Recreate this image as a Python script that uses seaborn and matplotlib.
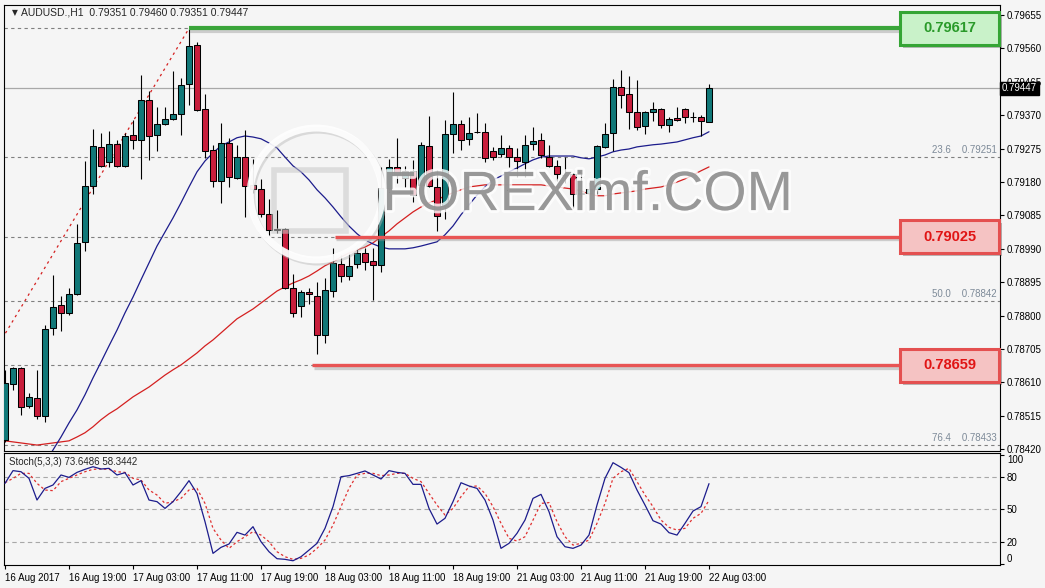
import numpy as np
import pandas as pd
import seaborn as sns
import matplotlib.pyplot as plt
import matplotlib.transforms as mtransforms
import matplotlib.patheffects as pe
from matplotlib.patches import Rectangle, Ellipse

# AUDUSD H1 candles, bar 0 = 16 Aug 11:00 ... bar 88 = 22 Aug 03:00
open_ = [0.78446, 0.78605, 0.78650, 0.78544, 0.78565, 0.78515, 0.78764, 0.78829, 0.78807, 0.78861,
         0.79009, 0.79169, 0.79279, 0.79238, 0.79287, 0.79226, 0.79313, 0.79300, 0.79412, 0.79313,
         0.79344, 0.79359, 0.79373, 0.79458, 0.79570, 0.79388, 0.79271, 0.79184, 0.79290, 0.79191,
         0.79252, 0.79171, 0.79159, 0.79088, 0.79046, 0.79046, 0.78878, 0.78828, 0.78868, 0.78857,
         0.78744, 0.78870, 0.78946, 0.78912, 0.78946, 0.78978, 0.78955, 0.78943, 0.79162, 0.79222,
         0.79191, 0.79212, 0.79172, 0.79282, 0.79165, 0.79112, 0.79317, 0.79344, 0.79302, 0.79323,
         0.79323, 0.79269, 0.79260, 0.79278, 0.79252, 0.79238, 0.79288, 0.79300, 0.79252, 0.79226,
         0.79200, 0.79202, 0.79148, 0.79148, 0.79159, 0.79279, 0.79319, 0.79449, 0.79430, 0.79380,
         0.79339, 0.79378, 0.79387, 0.79342, 0.79361, 0.79388, 0.79365, 0.79364, 0.79351]
high = [0.78645, 0.78655, 0.78655, 0.78579, 0.78645, 0.78773, 0.78916, 0.78856, 0.78878, 0.79061,
        0.79240, 0.79331, 0.79319, 0.79325, 0.79300, 0.79319, 0.79356, 0.79484, 0.79439, 0.79392,
        0.79392, 0.79496, 0.79475, 0.79617, 0.79577, 0.79430, 0.79285, 0.79347, 0.79304, 0.79285,
        0.79328, 0.79245, 0.79188, 0.79131, 0.79100, 0.79048, 0.78918, 0.78873, 0.78880, 0.78897,
        0.78906, 0.78993, 0.78973, 0.78977, 0.78993, 0.78991, 0.78991, 0.79222, 0.79246, 0.79304,
        0.79226, 0.79242, 0.79295, 0.79368, 0.79214, 0.79356, 0.79435, 0.79356, 0.79366, 0.79375,
        0.79347, 0.79280, 0.79314, 0.79285, 0.79276, 0.79314, 0.79337, 0.79319, 0.79285, 0.79243,
        0.79252, 0.79205, 0.79205, 0.79181, 0.79284, 0.79347, 0.79473, 0.79499, 0.79482, 0.79470,
        0.79383, 0.79408, 0.79391, 0.79366, 0.79392, 0.79390, 0.79380, 0.79371, 0.79460]
low = [0.78440, 0.78589, 0.78517, 0.78536, 0.78505, 0.78498, 0.78745, 0.78757, 0.78802, 0.78858,
       0.78985, 0.79146, 0.79224, 0.79224, 0.79224, 0.79224, 0.79274, 0.79188, 0.79243, 0.79269,
       0.79341, 0.79356, 0.79314, 0.79399, 0.79383, 0.79248, 0.79165, 0.79121, 0.79165, 0.79188,
       0.79081, 0.79150, 0.79081, 0.79027, 0.79036, 0.78876, 0.78795, 0.78795, 0.78833, 0.78690,
       0.78723, 0.78854, 0.78897, 0.78901, 0.78935, 0.78930, 0.78844, 0.78925, 0.79154, 0.79176,
       0.79167, 0.79124, 0.79167, 0.79167, 0.79042, 0.79074, 0.79263, 0.79271, 0.79285, 0.79320,
       0.79238, 0.79243, 0.79250, 0.79222, 0.79193, 0.79195, 0.79271, 0.79248, 0.79222, 0.79184,
       0.79176, 0.79105, 0.79138, 0.79100, 0.79147, 0.79276, 0.79269, 0.79390, 0.79330, 0.79328,
       0.79317, 0.79354, 0.79333, 0.79323, 0.79355, 0.79347, 0.79352, 0.79311, 0.79351]
close = [0.78608, 0.78650, 0.78539, 0.78568, 0.78515, 0.78761, 0.78824, 0.78807, 0.78861, 0.79006,
         0.79169, 0.79282, 0.79226, 0.79287, 0.79226, 0.79311, 0.79300, 0.79412, 0.79310, 0.79344,
         0.79359, 0.79373, 0.79455, 0.79567, 0.79385, 0.79268, 0.79184, 0.79290, 0.79193, 0.79252,
         0.79169, 0.79159, 0.79088, 0.79044, 0.79044, 0.78878, 0.78807, 0.78866, 0.78861, 0.78744,
         0.78873, 0.78949, 0.78912, 0.78942, 0.78977, 0.78953, 0.78943, 0.79162, 0.79222, 0.79202,
         0.79212, 0.79143, 0.79285, 0.79169, 0.79083, 0.79317, 0.79344, 0.79300, 0.79319, 0.79321,
         0.79248, 0.79250, 0.79278, 0.79252, 0.79240, 0.79285, 0.79298, 0.79257, 0.79226, 0.79203,
         0.79200, 0.79145, 0.79147, 0.79159, 0.79282, 0.79317, 0.79449, 0.79428, 0.79380, 0.79337,
         0.79380, 0.79387, 0.79342, 0.79358, 0.79356, 0.79364, 0.79364, 0.79354, 0.79447]

# moving averages (fast one starts at bar 5)
ma_fast_start = 5
ma_fast = [0.78381, 0.78418, 0.78455, 0.78495, 0.78532, 0.78575, 0.78623, 0.78668, 0.78714, 0.78759,
           0.78808, 0.78853, 0.78902, 0.78950, 0.78998, 0.79038, 0.79078, 0.79121, 0.79166, 0.79209,
           0.79240, 0.79263, 0.79283, 0.79294, 0.79306, 0.79311, 0.79308, 0.79303, 0.79291, 0.79277,
           0.79251, 0.79226, 0.79209, 0.79186, 0.79158, 0.79135, 0.79109, 0.79081, 0.79055, 0.79033,
           0.79015, 0.79004, 0.78995, 0.78990, 0.78990, 0.78990, 0.78993, 0.78998, 0.79004, 0.79010,
           0.79030, 0.79055, 0.79087, 0.79115, 0.79143, 0.79166, 0.79186, 0.79197, 0.79209, 0.79220,
           0.79232, 0.79243, 0.79251, 0.79254, 0.79254, 0.79254, 0.79254, 0.79249, 0.79246, 0.79251,
           0.79257, 0.79266, 0.79271, 0.79274, 0.79280, 0.79283, 0.79286, 0.79288, 0.79291, 0.79294,
           0.79300, 0.79306, 0.79311, 0.79323]
ma_slow = [0.78444, 0.78441, 0.78438, 0.78435, 0.78432, 0.78435, 0.78438, 0.78441, 0.78444, 0.78455,
           0.78467, 0.78484, 0.78504, 0.78521, 0.78535, 0.78552, 0.78569, 0.78583, 0.78597, 0.78614,
           0.78631, 0.78646, 0.78660, 0.78677, 0.78694, 0.78714, 0.78731, 0.78751, 0.78771, 0.78791,
           0.78805, 0.78819, 0.78836, 0.78853, 0.78870, 0.78882, 0.78893, 0.78902, 0.78913, 0.78927,
           0.78942, 0.78953, 0.78967, 0.78978, 0.78987, 0.78995, 0.79007, 0.79024, 0.79041, 0.79061,
           0.79078, 0.79095, 0.79109, 0.79121, 0.79129, 0.79141, 0.79149, 0.79158, 0.79166, 0.79169,
           0.79172, 0.79172, 0.79172, 0.79172, 0.79172, 0.79172, 0.79172, 0.79172, 0.79169, 0.79166,
           0.79163, 0.79160, 0.79155, 0.79146, 0.79141, 0.79141, 0.79146, 0.79149, 0.79152, 0.79155,
           0.79160, 0.79163, 0.79166, 0.79172, 0.79180, 0.79189, 0.79200, 0.79212, 0.79223]

# Stoch(5,3,3) main and signal
stoch_k = [73.9, 85.6, 84.6, 78.5, 58.6, 69.3, 72.4, 81.6, 79.4, 84.0,
           86.8, 89.2, 87.1, 87.7, 81.6, 83.7, 72.4, 76.4, 58.6, 57.1,
           50.9, 57.1, 66.3, 76.4, 64.7, 38.7, 9.6, 15.1, 18.2, 28.9,
           26.4, 34.1, 20.3, 11.1, 4.7, 4.1, 2.8, 6.5, 12.6, 18.8,
           32.6, 52.5, 80.0, 81.0, 83.1, 85.3, 81.6, 77.9, 85.6, 84.0,
           83.1, 73.0, 73.0, 50.9, 36.5, 41.8, 57.1, 74.5, 71.5, 69.3,
           58.6, 40.2, 14.2, 18.8, 28.0, 40.2, 60.1, 63.8, 47.9, 24.9,
           15.7, 14.2, 17.2, 26.4, 54.0, 78.5, 92.9, 88.6, 83.7, 67.8,
           54.0, 39.6, 36.5, 28.6, 26.4, 37.2, 48.5, 52.5, 73.65]
stoch_d = [74.5, 78.5, 83.1, 83.1, 73.9, 67.8, 67.2, 75.5, 78.5, 81.6,
           84.6, 86.8, 87.1, 86.8, 84.6, 84.0, 78.5, 77.0, 67.8, 63.2,
           55.5, 57.1, 60.1, 67.8, 69.3, 55.5, 32.6, 21.8, 14.2, 20.3,
           24.9, 29.5, 26.4, 20.3, 11.1, 6.5, 4.1, 5.0, 8.1, 14.2,
           21.8, 35.6, 52.5, 69.3, 81.6, 83.1, 83.1, 81.0, 81.6, 83.1,
           83.1, 78.5, 75.5, 64.7, 54.0, 44.8, 50.9, 61.7, 70.9, 71.5,
           64.7, 52.5, 37.2, 23.4, 20.9, 24.9, 40.2, 55.5, 56.2, 38.7,
           24.9, 17.2, 18.8, 21.8, 37.2, 55.5, 78.5, 84.6, 87.7, 75.5,
           63.2, 52.5, 40.2, 33.5, 31.0, 32.6, 41.8, 46.3, 58.34]

time_labels = ['16 Aug 2017', '16 Aug 19:00', '17 Aug 03:00', '17 Aug 11:00', '17 Aug 19:00',
               '18 Aug 03:00', '18 Aug 11:00', '18 Aug 19:00', '21 Aug 03:00', '21 Aug 11:00',
               '21 Aug 19:00', '22 Aug 03:00']
label_step = 8
price_ticks = [0.79655, 0.79560, 0.79465, 0.79370, 0.79275, 0.79180, 0.79085, 0.78990,
               0.78895, 0.78800, 0.78705, 0.78610, 0.78515, 0.78420]
stoch_ticks = [0, 20, 50, 80, 100]

# fibonacci retracement (0% = high, 100% = low)
fib_pct = [0.0, 23.6, 38.2, 50.0, 61.8, 76.4]
fib_prices = [0.79617, 0.79251, 0.79025, 0.78842, 0.78659, 0.78433]
fib_labelled = [23.6, 50.0, 76.4]   # the others sit under the price boxes
fib_anchor_bars = [-18, 23]
fib_anchor_prices = [0.78068, 0.79617]

# support / resistance marks
green_level, green_start = 0.79617, 23
red_levels = [0.79025, 0.78659]
red_starts = [41.25, 38.4]
last_price = 0.79447

# colours
bg = '#f5f5f5'
bull, bear = '#117878', '#c81e3c'
navy, maroon = '#1c1c8c', '#d42020'

sns.set_theme(style='white')
plt.rcParams['font.family'] = ['Liberation Sans', 'DejaVu Sans']
plt.rcParams['axes.linewidth'] = 0.8

fig = plt.figure(figsize=(10.45, 5.88), dpi=100, facecolor=bg)
ax = fig.add_axes([4/1045, 137/588, 996/1045, 446/588], facecolor=bg)
ax2 = fig.add_axes([4/1045, 23/588, 996/1045, 112/588], facecolor=bg, sharex=ax)
right_tr = mtransforms.blended_transform_factory(ax.transAxes, ax.transData)

bars = np.arange(len(open_))
o = np.array(open_); c = np.array(close)

# fib dashed levels
for pct, lvl in zip(fib_pct, fib_prices):
    ax.axhline(lvl, color='#808080', lw=0.8, ls=(0, (3, 3)), zorder=1)
    if pct in fib_labelled:
        ax.text(0.997, lvl + 0.00005, f'{pct:.1f}    {lvl:.5f}', transform=right_tr,
                ha='right', va='bottom', fontsize=7, color='#7d8a98', zorder=1)

# current price line
ax.axhline(last_price, color='#a8a8a8', lw=0.9, zorder=1)

# fib trend line (dotted)
ax.plot(fib_anchor_bars, fib_anchor_prices, color=maroon, lw=0.9, ls=(0, (2, 3)), zorder=2)

# moving averages
df_ma = pd.DataFrame({'bar': bars, 'slow': ma_slow})
sns.lineplot(data=df_ma, x='bar', y='slow', ax=ax, color=maroon, lw=0.9, zorder=3)
df_fast = pd.DataFrame({'bar': np.arange(ma_fast_start, ma_fast_start + len(ma_fast)), 'fast': ma_fast})
sns.lineplot(data=df_fast, x='bar', y='fast', ax=ax, color=navy, lw=0.9, zorder=3)

# candles
colors = np.where(c >= o, bull, bear)
ax.vlines(bars, low, high, color='black', lw=0.8, zorder=4)
ax.bar(bars, np.abs(c - o), bottom=np.minimum(o, c), width=0.72, color=colors,
       edgecolor='black', linewidth=0.75, zorder=5)

# watermark logo + text
ax.add_patch(Ellipse((39.1, 0.79140), 16.5, 0.00375, fill=False, edgecolor='#b8b8b8', lw=5, alpha=0.45, zorder=6))
ax.add_patch(Ellipse((38.9, 0.79146), 16.5, 0.00375, fill=False, edgecolor='white', lw=5, alpha=0.9, zorder=6))
ax.add_patch(Rectangle((33.6, 0.79040), 9.0, 0.00175, fill=False, edgecolor='#c8c8c8', lw=4, alpha=0.55, zorder=6))
ax.text(72.8, 0.79140, 'FOREXimf.COM', fontsize=40, color='#6e6e6e', alpha=0.65, ha='center', va='center', zorder=6,
        path_effects=[pe.withStroke(linewidth=4, foreground='white', alpha=0.8)])

# support / resistance lines with price boxes
box_x0, box_x1 = 111.875, 124.375
box_h = 0.00094
shadow = [pe.SimpleLineShadow(offset=(1, -2), shadow_color='#909090', alpha=0.4), pe.Normal()]
ax.plot([green_start, box_x0], [green_level, green_level], color='#3aa53a', lw=3.0, zorder=7,
        solid_capstyle='butt', path_effects=shadow)
ax.add_patch(Rectangle((box_x0, green_level - box_h / 2), box_x1 - box_x0 - 0.12, box_h, facecolor='#c9f2c9',
                       edgecolor='#35a535', lw=2.2, zorder=8, clip_on=False,
                       path_effects=[pe.SimplePatchShadow(offset=(2, -2), alpha=0.35), pe.Normal()]))
ax.text((box_x0 + box_x1) / 2, green_level, f'{green_level:.5f}', fontsize=10.5, fontweight='bold',
        color='#2a9a2a', ha='center', va='center', zorder=9)
for lvl, start in zip(red_levels, red_starts):
    ax.plot([start, box_x0], [lvl, lvl], color='#e85454', lw=2.4, zorder=7,
            solid_capstyle='butt', path_effects=shadow)
    ax.add_patch(Rectangle((box_x0, lvl - box_h / 2), box_x1 - box_x0 - 0.12, box_h, facecolor='#f5c3c3',
                           edgecolor='#e45050', lw=2.2, zorder=8, clip_on=False,
                           path_effects=[pe.SimplePatchShadow(offset=(2, -2), alpha=0.35), pe.Normal()]))
    ax.text((box_x0 + box_x1) / 2, lvl, f'{lvl:.5f}', fontsize=10.5, fontweight='bold',
            color='#e01414', ha='center', va='center', zorder=9)

# main axis formatting
ax.set_xlim(-0.125, 124.375)
ax.set_ylim(0.784151, 0.796835)
ax.yaxis.tick_right()
ax.set_yticks(price_ticks, labels=[f'{v:.5f}' for v in price_ticks])
ax.tick_params(axis='y', right=True, length=3, width=0.8, pad=2, labelsize=7, colors='black')
ax.tick_params(axis='x', bottom=False, labelbottom=False)
ax.set_xlabel(''); ax.set_ylabel('')
for s in ax.spines.values():
    s.set_color('black')

ax.text(0.0105, 0.984, '\u25bc', transform=ax.transAxes, fontsize=5.5, family='DejaVu Sans',
        ha='center', va='center')
ax.text(0.0175, 0.984, 'AUDUSD.,H1  0.79351 0.79460 0.79351 0.79447', transform=ax.transAxes,
        fontsize=7.5, ha='left', va='center')
ax.text(1.002, last_price, f'{last_price:.5f}', transform=right_tr,
        fontsize=7, color='white', ha='left', va='center', zorder=10, clip_on=False,
        bbox=dict(facecolor='black', edgecolor='black', pad=1.2))

# stochastic panel
for lvl in [20, 50, 80]:
    ax2.axhline(lvl, color='#a8a8a8', lw=0.8, ls=(0, (4, 3)), zorder=1)
df_st = pd.DataFrame({'bar': bars, 'k': stoch_k, 'd': stoch_d})
sns.lineplot(data=df_st, x='bar', y='k', ax=ax2, color=navy, lw=0.9, zorder=3)
sns.lineplot(data=df_st, x='bar', y='d', ax=ax2, color='#e03030', lw=0.9, ls=(0, (2, 2)), zorder=2)
ax2.set_ylim(-1.1, 101.8)
ax2.yaxis.tick_right()
ax2.set_yticks(stoch_ticks, labels=[str(v) for v in stoch_ticks])
ax2.tick_params(axis='y', right=True, length=3, width=0.8, pad=2, labelsize=7, colors='black')
for t in ax2.get_yticklabels():
    if t.get_text() == '100':
        t.set_va('top')
    elif t.get_text() == '0':
        t.set_va('bottom')
ax2.set_xticks(np.arange(len(time_labels)) * label_step, labels=time_labels)
ax2.tick_params(axis='x', bottom=True, length=3, width=0.8, pad=3, labelsize=7, colors='black')
for t in ax2.get_xticklabels():
    t.set_ha('left')
ax2.set_xlabel(''); ax2.set_ylabel('')
for s in ax2.spines.values():
    s.set_color('black')
ax2.text(0.005, 0.92, 'Stoch(5,3,3) 73.6486 58.3442', transform=ax2.transAxes, fontsize=7,
         ha='left', va='center')

fig.savefig('out.png', dpi=100, facecolor=fig.get_facecolor())
